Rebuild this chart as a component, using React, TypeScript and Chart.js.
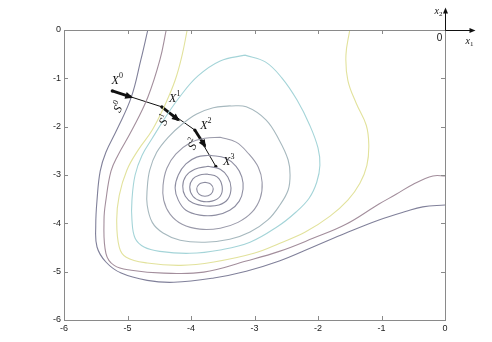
import { useEffect, useRef } from 'react';
import { Chart, registerables } from 'chart.js';

Chart.register(...registerables);

type P = [number, number];

const xTickValues = [-6, -5, -4, -3, -2, -1, 0];
const yTickValues = [-6, -5, -4, -3, -2, -1, 0];

// open contours (enter through the top edge)
const contourA: P[] = [
  [-4.68, 0], [-4.79, -0.62], [-4.94, -1.39], [-5.17, -2.07], [-5.34, -2.53], [-5.43, -2.92],
  [-5.48, -3.52], [-5.5, -4.04], [-5.48, -4.49], [-5.34, -4.8], [-5.1, -5.03], [-4.69, -5.18],
  [-4.27, -5.22], [-3.64, -5.13], [-3.13, -4.99], [-2.61, -4.78], [-2.08, -4.49], [-1.56, -4.2],
  [-1.04, -3.93], [-0.61, -3.75], [-0.35, -3.66], [0, -3.62],
];
const contourB: P[] = [
  [-4.39, 0], [-4.49, -0.62], [-4.68, -1.39], [-4.93, -2.07], [-5.15, -2.59], [-5.26, -2.92],
  [-5.34, -3.52], [-5.37, -3.93], [-5.34, -4.62], [-5.21, -4.87], [-4.94, -4.97], [-4.43, -5.03],
  [-3.8, -5.01], [-3.13, -4.78], [-2.61, -4.58], [-2.08, -4.31], [-1.56, -4.02], [-1.04, -3.6],
  [-0.77, -3.4], [-0.5, -3.19], [-0.19, -3.02], [0, -3.02],
];
const contourC: P[] = [
  [-4.06, 0], [-4.14, -0.52], [-4.25, -1.04], [-4.41, -1.55], [-4.61, -2.07], [-4.83, -2.48],
  [-5.01, -2.9], [-5.13, -3.42], [-5.17, -3.93], [-5.13, -4.49], [-5.02, -4.7], [-4.69, -4.82],
  [-4.16, -4.87], [-3.64, -4.8], [-3.01, -4.62], [-2.6, -4.41], [-2.2, -4.18], [-1.81, -3.85],
  [-1.53, -3.52], [-1.34, -3.17], [-1.23, -2.8], [-1.2, -2.38], [-1.24, -1.97], [-1.4, -1.51],
  [-1.53, -1.04], [-1.56, -0.52], [-1.5, 0],
];
// closed contours
const contourD: P[] = [
  [-3.15, -0.52], [-2.83, -0.66], [-2.57, -0.99], [-2.33, -1.45], [-2.13, -1.97], [-2.0, -2.44],
  [-1.97, -2.8], [-2.02, -3.15], [-2.14, -3.48], [-2.35, -3.77], [-2.63, -4.06], [-3.07, -4.39],
  [-3.54, -4.55], [-4.02, -4.62], [-4.49, -4.58], [-4.74, -4.49], [-4.88, -4.31], [-4.93, -3.93],
  [-4.93, -3.52], [-4.88, -3.0], [-4.77, -2.59], [-4.61, -2.24], [-4.41, -1.82], [-4.17, -1.37],
  [-3.89, -0.95], [-3.54, -0.64], [-3.15, -0.52],
];
const contourE: P[] = [
  [-3.39, -1.57], [-3.13, -1.59], [-2.82, -1.86], [-2.61, -2.28], [-2.47, -2.69], [-2.44, -3.0],
  [-2.47, -3.31], [-2.6, -3.62], [-2.79, -3.93], [-3.07, -4.18], [-3.39, -4.33], [-3.78, -4.39],
  [-4.17, -4.35], [-4.44, -4.2], [-4.61, -3.98], [-4.69, -3.62], [-4.69, -3.29], [-4.65, -2.9],
  [-4.54, -2.53], [-4.36, -2.22], [-4.14, -1.95], [-3.91, -1.74], [-3.65, -1.61], [-3.39, -1.57],
];
const contourF: P[] = [
  [-3.54, -2.22], [-3.29, -2.32], [-3.1, -2.55], [-2.94, -2.84], [-2.88, -3.15], [-2.91, -3.48],
  [-3.04, -3.77], [-3.26, -3.98], [-3.54, -4.1], [-3.86, -4.12], [-4.14, -4.02], [-4.33, -3.81],
  [-4.43, -3.52], [-4.44, -3.21], [-4.38, -2.86], [-4.24, -2.57], [-4.02, -2.34], [-3.78, -2.24],
  [-3.54, -2.22],
];
const contourG: P[] = [
  [-3.7, -2.59], [-3.46, -2.65], [-3.29, -2.82], [-3.2, -3.04], [-3.18, -3.29], [-3.24, -3.54],
  [-3.39, -3.73], [-3.61, -3.83], [-3.86, -3.83], [-4.08, -3.73], [-4.2, -3.52], [-4.25, -3.27],
  [-4.2, -3.0], [-4.08, -2.77], [-3.91, -2.63], [-3.7, -2.59],
];
const contourH: P[] = [
  [-3.73, -2.82], [-3.54, -2.88], [-3.42, -3.04], [-3.37, -3.27], [-3.42, -3.5], [-3.56, -3.62],
  [-3.76, -3.64], [-3.97, -3.58], [-4.09, -3.44], [-4.13, -3.23], [-4.08, -3.02], [-3.94, -2.88],
  [-3.73, -2.82],
];
const contourI: P[] = [
  [-3.75, -2.98], [-3.59, -3.04], [-3.51, -3.23], [-3.54, -3.44], [-3.67, -3.54], [-3.84, -3.54],
  [-3.97, -3.44], [-4.02, -3.25], [-3.97, -3.08], [-3.86, -3.0], [-3.75, -2.98],
];
const contourJ: P[] = [
  [-3.78, -3.15], [-3.69, -3.19], [-3.65, -3.29], [-3.69, -3.4], [-3.78, -3.44], [-3.87, -3.4],
  [-3.91, -3.29], [-3.87, -3.19], [-3.78, -3.15],
];

// descent path
const pathPoints: P[] = [[-5.24, -1.26], [-4.46, -1.59], [-3.94, -2.07], [-3.61, -2.82]];
const stepEnds: P[] = [[-4.94, -1.39], [-4.2, -1.86], [-3.78, -2.4]];
const pointLabels = ['0', '1', '2', '3'];
const stepLabels = ['0', '1', '2'];

const contours: { pts: P[]; color: string }[] = [
  { pts: contourA, color: '#80809a' },
  { pts: contourB, color: '#a38e9c' },
  { pts: contourC, color: '#e2e29c' },
  { pts: contourD, color: '#a4d4d8' },
  { pts: contourE, color: '#a6b8be' },
  { pts: contourF, color: '#9a9aaa' },
  { pts: contourG, color: '#8e8ea2' },
  { pts: contourH, color: '#8a8a9e' },
  { pts: contourI, color: '#8a8a9e' },
  { pts: contourJ, color: '#8a8a9e' },
];

const toXY = (p: P[]) => p.map(([x, y]) => ({ x, y }));

function drawSupText(ctx: CanvasRenderingContext2D, main: string, sup: string, cx: number, cy: number, rot: number, size: number) {
  ctx.save();
  ctx.translate(cx, cy);
  ctx.rotate(rot);
  ctx.fillStyle = '#111';
  ctx.textBaseline = 'alphabetic';
  ctx.textAlign = 'left';
  ctx.font = `italic ${size}px "Liberation Serif", "Times New Roman", serif`;
  const w = ctx.measureText(main).width;
  ctx.font = `${Math.round(size * 0.7)}px "Liberation Serif", "Times New Roman", serif`;
  const sw = ctx.measureText(sup).width;
  const total = w + sw;
  ctx.font = `italic ${size}px "Liberation Serif", "Times New Roman", serif`;
  ctx.fillText(main, -total / 2, size * 0.35);
  ctx.font = `${Math.round(size * 0.7)}px "Liberation Serif", "Times New Roman", serif`;
  ctx.fillText(sup, -total / 2 + w, -size * 0.15);
  ctx.restore();
}

function drawSubText(ctx: CanvasRenderingContext2D, main: string, sub: string, cx: number, cy: number) {
  ctx.save();
  ctx.fillStyle = '#111';
  ctx.textBaseline = 'alphabetic';
  ctx.font = 'italic 10px "Liberation Serif", serif';
  const w = ctx.measureText(main).width;
  ctx.fillText(main, cx, cy);
  ctx.font = '7px "Liberation Serif", serif';
  ctx.fillText(sub, cx + w, cy + 2);
  ctx.restore();
}

const FRAME = '#8a8a8a';

const decor = {
  id: 'decor',
  afterDatasetsDraw(chart: any) {
    const { ctx, chartArea: a, scales } = chart;
    const xs = scales.x;
    const ys = scales.y;
    ctx.save();
    // top and right frame lines
    ctx.strokeStyle = FRAME;
    ctx.lineWidth = 1;
    ctx.beginPath();
    ctx.moveTo(a.left, Math.round(a.top) + 0.5);
    ctx.lineTo(a.right, Math.round(a.top) + 0.5);
    ctx.moveTo(Math.round(a.right) + 0.5, a.top);
    ctx.lineTo(Math.round(a.right) + 0.5, a.bottom);
    ctx.stroke();
    // inside ticks on all four sides
    ctx.beginPath();
    xTickValues.slice(1, -1).forEach((v) => {
      const px = Math.round(xs.getPixelForValue(v)) + 0.5;
      ctx.moveTo(px, a.bottom);
      ctx.lineTo(px, a.bottom - 4);
      ctx.moveTo(px, a.top);
      ctx.lineTo(px, a.top + 4);
    });
    yTickValues.slice(1, -1).forEach((v) => {
      const py = Math.round(ys.getPixelForValue(v)) + 0.5;
      ctx.moveTo(a.left, py);
      ctx.lineTo(a.left + 4, py);
      ctx.moveTo(a.right, py);
      ctx.lineTo(a.right - 4, py);
    });
    ctx.stroke();

    // coordinate indicator at origin
    const ox = Math.round(a.right) + 0.5;
    const oy = Math.round(a.top) + 0.5;
    ctx.strokeStyle = '#111';
    ctx.fillStyle = '#111';
    ctx.beginPath();
    ctx.moveTo(ox, oy);
    ctx.lineTo(ox + 26, oy);
    ctx.moveTo(ox, oy);
    ctx.lineTo(ox, oy - 19);
    ctx.stroke();
    ctx.beginPath();
    ctx.moveTo(ox + 30, oy);
    ctx.lineTo(ox + 24, oy - 2.5);
    ctx.lineTo(ox + 24, oy + 2.5);
    ctx.closePath();
    ctx.fill();
    ctx.beginPath();
    ctx.moveTo(ox, oy - 23);
    ctx.lineTo(ox - 2.5, oy - 17);
    ctx.lineTo(ox + 2.5, oy - 17);
    ctx.closePath();
    ctx.fill();
    ctx.font = '10px "Liberation Sans", Arial, sans-serif';
    ctx.textAlign = 'center';
    ctx.textBaseline = 'middle';
    ctx.fillText('0', ox - 6, oy + 8);
    ctx.textAlign = 'left';
    drawSubText(ctx, 'x', '2', ox - 11, oy - 17);
    drawSubText(ctx, 'x', '1', ox + 20, oy + 13);

    // arrowheads at the end of each step
    stepEnds.forEach((e, i) => {
      const s = pathPoints[i];
      const x0 = xs.getPixelForValue(s[0]);
      const y0 = ys.getPixelForValue(s[1]);
      const x1 = xs.getPixelForValue(e[0]);
      const y1 = ys.getPixelForValue(e[1]);
      const len = Math.hypot(x1 - x0, y1 - y0);
      const dx = (x1 - x0) / len;
      const dy = (y1 - y0) / len;
      const tx = x1 + dx * 2;
      const ty = y1 + dy * 2;
      const bx = tx - dx * 8;
      const by = ty - dy * 8;
      ctx.beginPath();
      ctx.moveTo(tx, ty);
      ctx.lineTo(bx - dy * 3.5, by + dx * 3.5);
      ctx.lineTo(bx + dy * 3.5, by - dx * 3.5);
      ctx.closePath();
      ctx.fill();
    });

    // labels X^k and S^k
    const xOffsets: [number, number][] = [[5, -11], [13, -9], [11, -5], [13, -6]];
    pathPoints.forEach((p, i) => {
      const px = xs.getPixelForValue(p[0]);
      const py = ys.getPixelForValue(p[1]);
      drawSupText(ctx, 'X', pointLabels[i], px + xOffsets[i][0], py + xOffsets[i][1], 0, 12);
    });
    const sOffsets: [number, number][] = [[6, 16], [2, 13], [-2, 14]];
    stepLabels.forEach((lab, i) => {
      const p = pathPoints[i];
      const px = xs.getPixelForValue(p[0]);
      const py = ys.getPixelForValue(p[1]);
      drawSupText(ctx, 'S', lab, px + sOffsets[i][0], py + sOffsets[i][1], -1.1, 12);
    });
    ctx.restore();
  },
};

export default function App() {
  const ref = useRef<HTMLCanvasElement | null>(null);
  useEffect(() => {
    if (!ref.current) return;
    const datasets: any[] = contours.map((c) => ({
      data: toXY(c.pts),
      showLine: true,
      borderColor: c.color,
      borderWidth: 1.1,
      pointRadius: 0,
      tension: 0.4,
      fill: false,
    }));
    datasets.push({
      data: toXY(pathPoints),
      showLine: true,
      borderColor: '#111',
      borderWidth: 1,
      pointRadius: 1.6,
      pointBackgroundColor: '#111',
      pointBorderWidth: 0,
      tension: 0,
    });
    stepEnds.forEach((e, i) => {
      datasets.push({
        data: toXY([pathPoints[i], e]),
        showLine: true,
        borderColor: '#111',
        borderWidth: 2.8,
        pointRadius: 0,
        tension: 0,
      });
    });
    const tickFont = { family: '"Liberation Sans", Arial, sans-serif', size: 9 };
    const chart = new Chart(ref.current, {
      type: 'scatter',
      data: { datasets },
      plugins: [decor],
      options: {
        animation: false,
        responsive: true,
        maintainAspectRatio: false,
        events: [],
        layout: { padding: { left: 0, top: 30, right: 47, bottom: 0 } },
        plugins: { legend: { display: false }, tooltip: { enabled: false } },
        scales: {
          x: {
            type: 'linear',
            min: -6,
            max: 0,
            afterBuildTicks: (s: any) => { s.ticks = xTickValues.map((v) => ({ value: v })); },
            afterFit: (s: any) => { s.height = 22; },
            ticks: { font: tickFont, color: '#222', padding: 3, callback: (v: any) => String(v) },
            grid: { display: false, drawTicks: false },
            border: { display: true, color: FRAME, width: 1 },
          },
          y: {
            type: 'linear',
            min: -6,
            max: 0,
            afterBuildTicks: (s: any) => { s.ticks = yTickValues.map((v) => ({ value: v })); },
            afterFit: (s: any) => { s.width = 64; },
            ticks: { font: tickFont, color: '#222', padding: 3, callback: (v: any) => String(v) },
            grid: { display: false, drawTicks: false },
            border: { display: true, color: FRAME, width: 1 },
          },
        },
      } as any,
    });
    return () => chart.destroy();
  }, []);
  return (
    <div style={{ position: 'fixed', left: 0, top: 0, width: 492, height: 342, background: '#fff' }}>
      <canvas ref={ref} />
    </div>
  );
}
